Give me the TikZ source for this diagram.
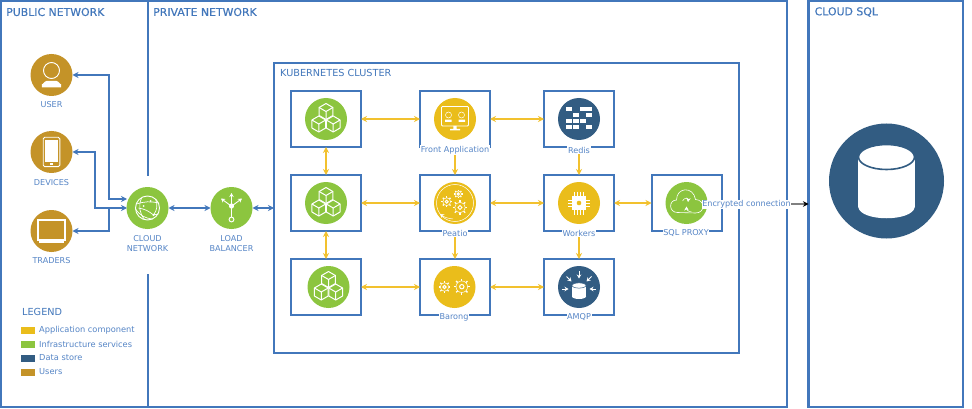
\documentclass[tikz,border=0pt]{standalone}
\usepackage{fontspec}
\setmainfont{DejaVu Sans}
\newfontfamily\headfont[FakeBold=0.25]{DejaVu Sans}
\usetikzlibrary{arrows.meta,calc}
\definecolor{fblue}{HTML}{4277BB}
\definecolor{tblue}{HTML}{5585C6}
\definecolor{cgold}{HTML}{C49328}
\definecolor{cgreen}{HTML}{8CC53F}
\definecolor{cyellow}{HTML}{EABD1B}
\definecolor{cnavy}{HTML}{325C82}
\definecolor{ayellow}{HTML}{F2C12E}
\tikzset{
  frame/.style={draw=fblue,line width=2.1pt,inner sep=0pt,outer sep=0pt,fill=white},
  cell/.style={draw=fblue,line width=2pt,inner sep=0pt,outer sep=0pt,minimum width=70pt,minimum height=56pt},
  disc/.style={circle,inner sep=0pt,outer sep=0pt,minimum size=42pt},
  title/.style={text=fblue,font=\headfont\fontsize{10.9}{11}\selectfont,anchor=west,inner sep=0pt},
  subtitle/.style={text=fblue,font=\fontsize{9.7}{10}\selectfont,anchor=west,inner sep=0pt},
  lab/.style={text=tblue,font=\fontsize{8.1}{10}\selectfont,inner sep=0.6pt,fill=white,align=center},
  leglab/.style={text=tblue,font=\fontsize{8.25}{9}\selectfont,anchor=west,inner sep=0pt},
  swatch/.style={inner sep=0pt,outer sep=0pt,minimum width=14pt,minimum height=7pt},
  bluearrow/.style={draw=fblue,line width=1.2pt,{Stealth[length=6pt,width=6pt]}-{Stealth[length=6pt,width=6pt]}},
  bluehead/.style={draw=fblue,line width=1.2pt,-{Stealth[length=6pt,width=6pt]}},
  yarrow/.style={draw=ayellow,line width=1.2pt,{Stealth[length=6pt,width=6pt]}-{Stealth[length=6pt,width=6pt]}},
  yhead/.style={draw=ayellow,line width=1.2pt,-{Stealth[length=6pt,width=6pt]}},
  iconw/.style={draw=white,line width=0.9pt},
  iconthin/.style={draw=white,line width=0.5pt},
  smallhead/.style={draw=white,line width=0.9pt,-{Stealth[length=4pt,width=4.5pt]}}
}
\newcommand{\hexcube}[2]{%
  \begin{scope}[shift={(#1,#2)}]
    \draw[draw=white,line width=1pt,fill=cgreen,line join=round] (0,-8)--(6.9,-4)--(6.9,4)--(0,8)--(-6.9,4)--(-6.9,-4)--cycle;
    \draw[draw=white,line width=1pt] (0,0)--(0,8) (0,0)--(6.9,-4) (0,0)--(-6.9,-4);
  \end{scope}}
\newcommand{\cubeset}[1]{%
  \begin{scope}[shift={(#1)}]
    \hexcube{0}{-7.5}\hexcube{-7.2}{5}\hexcube{7.2}{5}
  \end{scope}}
\newcommand{\gearicon}[4]{% x y r col
  \begin{scope}[shift={(#1,#2)}]
    \foreach \a in {0,45,...,315}{\draw[draw=white,line width=1.3pt] (\a:#3*0.8)--(\a:#3*1.18);}
    \draw[iconthin,fill=#4] (0,0) circle[radius=#3*0.85];
    \draw[draw=white,line width=1pt] (0,0) circle[radius=#3*0.32];
  \end{scope}}
\begin{document}
\begin{tikzpicture}[x=1pt,y=-1pt]
\useasboundingbox (0,0) rectangle (972,409);
% zone frames
\node[frame,minimum width=786pt,minimum height=406pt] (privzone) at (394,204) {};
\node[frame,minimum width=154.5pt,minimum height=406pt] (sqlzone) at (885.75,204) {};
\coordinate (divA) at (148,1);
\coordinate (divB) at (148,176);
\coordinate (divC) at (148,274);
\coordinate (divD) at (148,407);
\draw[fblue,line width=2.1pt] (divA)--(divB) (divC)--(divD);
\node[title] (tpub) at (6,12) {PUBLIC NETWORK};
\node[title] (tpriv) at (153,12) {PRIVATE NETWORK};
\node[title] (tsql) at (814.5,12) {CLOUD SQL};
% cluster
\node[frame,minimum width=465pt,minimum height=290pt] (k8s) at (506.5,208) {};
\node[subtitle] (tk8s) at (280,73) {KUBERNETES CLUSTER};
% cells
\node[cell] (bk1) at (326,119) {};
\node[cell] (bk2) at (326,203) {};
\node[cell] (bk3) at (326,287) {};
\node[cell] (bfront) at (455,119) {};
\node[cell] (bpeatio) at (455,203) {};
\node[cell] (bbarong) at (455,287) {};
\node[cell] (bredis) at (579,119) {};
\node[cell] (bworkers) at (579,203) {};
\node[cell] (bamqp) at (579,287) {};
\node[cell] (bproxy) at (686.5,203) {};
% discs
\node[disc,fill=cgold] (user) at (51.5,75) {};
\node[disc,fill=cgold] (devices) at (51.5,152) {};
\node[disc,fill=cgold] (traders) at (51.5,231) {};
\node[disc,fill=cgreen] (cloud) at (147.5,208) {};
\node[disc,fill=cgreen] (lb) at (231.5,208) {};
\node[disc,fill=cgreen] (k1) at (326,119) {};
\node[disc,fill=cgreen] (k2) at (326,203) {};
\node[disc,fill=cgreen] (k3) at (328.5,287) {};
\node[disc,fill=cyellow] (front) at (455,119) {};
\node[disc,fill=cyellow] (peatio) at (455,203) {};
\node[disc,fill=cyellow] (barong) at (454.5,287) {};
\node[disc,fill=cnavy] (redis) at (579,119) {};
\node[disc,fill=cyellow] (workers) at (579,203) {};
\node[disc,fill=cnavy] (amqp) at (579,287) {};
\node[disc,fill=cgreen] (proxy) at (686.5,203) {};
\node[disc,fill=cnavy,minimum size=115pt] (db) at (886.5,181) {};
% user icon
\begin{scope}[shift={(user.center)}]
  \draw[iconw] (0,-4.5) circle[radius=8];
  \fill[white] (-9.7,12.5)--(-9.7,9) to[out=-90,in=180] (-5,6)--(5,6) to[out=0,in=-90] (9.7,9)--(9.7,12.5)--cycle;
\end{scope}
% phone icon
\begin{scope}[shift={(devices.center)}]
  \draw[iconw,rounded corners=1.5pt] (-8.3,-14.7) rectangle (8.3,14.7);
  \fill[white] (-6.3,-12) rectangle (6.3,10.5);
  \fill[white] (-1.2,11.3) rectangle (1.2,13.5);
\end{scope}
% laptop icon
\begin{scope}[shift={(traders.center)}]
  \fill[white] (-14.2,-12.3) rectangle (14.2,9.5);
  \fill[cgold] (-12.3,-10.5) rectangle (12.3,7.5);
  \fill[white] (-13,10.3) rectangle (12.7,12.2);
\end{scope}
% globe icon
\begin{scope}[shift={(cloud.center)}]
  \draw[iconw] (0,0) circle[radius=12];
  \draw[iconthin,line width=0.7pt] (-11,-4) to[bend left=15] (11,-5);
  \draw[iconthin,line width=0.7pt] (-12,1) to[bend right=25] (5,11);
  \draw[iconthin,line width=0.7pt] (-6,-10) to[bend right=30] (-3,11.5);
  \draw[iconthin,line width=0.7pt] (8,-9) to[bend left=30] (6,7) -- (11,6);
  \draw[iconthin,line width=0.7pt] (-9,0) to[bend left=15] (6,7);
  \fill[white] (6,7) circle[radius=1.2] (-4,-2) circle[radius=1] (3,-7) circle[radius=1];
\end{scope}
% load balancer icon
\begin{scope}[shift={(lb.center)}]
  \draw[draw=white,line width=1.8pt] (0,-2)--(0,9);
  \draw[draw=white,line width=1pt] (0,11.5) circle[radius=2.4];
  \fill[white] (0,-2) circle[radius=2.6];
  \draw[smallhead] (0,-2)--(0,-15);
  \draw[smallhead] (-1,-2.5)--(-10.5,-9.5);
  \draw[smallhead] (1,-2.5)--(10.5,-9.5);
\end{scope}
% cubes
\cubeset{k1.center}
\cubeset{k2.center}
\cubeset{k3.center}
% monitor icon
\begin{scope}[shift={(front.center)}]
  \draw[iconw,rounded corners=1pt] (-13.5,-12.5) rectangle (13.5,7);
  \draw[iconthin] (-6.5,-4) circle[radius=3] (6.5,-4) circle[radius=3];
  \fill[white] (-10,0.7) rectangle (-3.5,2.9) (3.5,0.7) rectangle (10,2.9);
  \fill[white] (-1.7,7) rectangle (1.7,10) (-5,9.8) rectangle (5,11.5);
\end{scope}
% peatio icon
\begin{scope}[shift={(peatio.center)}]
  \draw[iconthin] (0,0) circle[radius=18.5];
  \gearicon{-8.3}{-1.3}{4.6}{cyellow}
  \gearicon{3.3}{-9}{3.6}{cyellow}
  \gearicon{5}{4.5}{6.2}{cyellow}
  \draw[smallhead,line width=0.5pt] (-2,16) to[bend left=15] (-15,11);
\end{scope}
% barong icon
\begin{scope}[shift={(barong.center)}]
  \gearicon{-10}{0}{5}{cyellow}
  \gearicon{7.3}{-0.3}{6.8}{cyellow}
\end{scope}
% redis icon
\begin{scope}[shift={(redis.center)}]
  \foreach \px/\py in {-10.3/-9.7,3.7/-9.7,10.3/-9.7,-3.3/-3.7,10.3/-3.7,-10.3/2.3,-3.3/2.3,3.7/2.3,-10.3/8.3,-3.3/8.3,10.3/8.3}{
    \fill[white] (\px-2.9,\py-2.2) rectangle (\px+2.9,\py+2.2);}
\end{scope}
% chip icon
\begin{scope}[shift={(workers.center)}]
  \foreach \k in {-4.5,-1.5,1.5,4.5}{\draw[draw=white,line width=1pt] (\k,-11.5)--(\k,11.5);}
  \foreach \k in {-3,0,3}{\draw[draw=white,line width=1pt] (-11,\k)--(11,\k);}
  \fill[white] (-6.7,-6.7) rectangle (6.7,6.7);
  \fill[cyellow] (0,0) circle[radius=2.3];
\end{scope}
% cloud proxy icon
\begin{scope}[shift={(proxy.center)}]
  \draw[draw=white,line width=0.6pt] (-9,9.5) .. controls (-18,9.5) and (-18,-3) .. (-10,-3)
     .. controls (-10,-16) and (7,-17) .. (9,-3.5)
     .. controls (19,-3) and (19,10) .. (9,10) -- cycle;
  \draw[smallhead,line width=0.5pt] (-4,-2) .. controls (-2,-6) and (2,-5) .. (1.5,-1);
  \draw[smallhead,line width=0.5pt] (5,9) .. controls (2,9) and (0,7) .. (0,3.5);
\end{scope}
% amqp icon
\begin{scope}[shift={(amqp.center)}]
  \fill[white] (-7,-1) rectangle (7,9.5);
  \fill[white] (0,9.5) ellipse[x radius=7,y radius=2.5];
  \draw[draw=cnavy,fill=white,line width=0.5pt] (0,-1.5) ellipse[x radius=7,y radius=2.6];
  \draw[smallhead] (0,-16) -- (0,-8.5);
  \draw[smallhead] (-17,2) -- (-10.5,2);
  \draw[smallhead] (17,2) -- (10.5,2);
  \draw[smallhead] (-12.5,-10.5) -- (-7.5,-5.5);
  \draw[smallhead] (12.5,-10.5) -- (7.5,-5.5);
\end{scope}
% database icon
\begin{scope}[shift={(db.center)}]
  \fill[white] (-28.3,-23.5) -- (-28.3,26) .. controls (-26,41) and (26,41) .. (28.3,26) -- (28.3,-23.5) -- cycle;
  \draw[draw=cnavy,fill=white,line width=1.6pt] (0,-24) ellipse[x radius=28,y radius=12.5];
\end{scope}
% blue connectors
\coordinate (userIn) at ($(cloud.center)+(-20.5,-9)$);
\coordinate (devIn) at ($(cloud.center)+(-20.5,0)$);
\coordinate (busA) at (109,208);
\draw[bluearrow] (userIn) -| (109,120) |- (user.east);
\draw[bluearrow] (devIn) -| (95,180) |- (devices.east);
\draw[bluehead] (busA) |- (traders.east);
\draw[bluearrow] (cloud.east) -- (lb.west);
\draw[bluearrow] (lb.east) -- (k8s.west |- lb.east);
% yellow connectors
\draw[yarrow] (bk1.south) -- (bk2.north);
\draw[yarrow] (bk2.south) -- (bk3.north);
\draw[yarrow] (bk1.east) -- (bfront.west);
\draw[yarrow] (bk2.east) -- (bpeatio.west);
\draw[yarrow] (bk3.east) -- (bbarong.west);
\draw[yarrow] (bfront.east) -- (bredis.west);
\draw[yarrow] (bpeatio.east) -- (bworkers.west);
\draw[yarrow] (bbarong.east) -- (bamqp.west);
\draw[yarrow] (bworkers.east) -- (bproxy.west);
% encrypted link
\draw[draw=gray,line width=1.1pt,-{Stealth[length=5.5pt,width=5.5pt,black]}] ($(bproxy.east)+(0,1)$) -- (sqlzone.west |- 0,204);
% labels
\node[lab] (luser) at (51.5,105) {USER};
\node[lab] (ldev) at (51.5,182.5) {DEVICES};
\node[lab] (ltrad) at (51.5,261) {TRADERS};
\node[lab,fill=none] (lcloud) at (147.5,243.5) {CLOUD\\NETWORK};
\node[lab,fill=none] (llb) at (231.5,243.5) {LOAD\\BALANCER};
\node[lab] (lfront) at (455,150) {Front Application};
\node[lab] (lredis) at (579,150) {Redis};
\node[lab] (lpeatio) at (455,233.5) {Peatio};
\node[lab] (lworkers) at (579,233.5) {Workers};
\node[lab] (lproxy) at (686,233.5) {SQL PROXY};
\node[lab] (lbarong) at (454,317.5) {Barong};
\node[lab] (lamqp) at (579,317.5) {AMQP};
\node[lab] (lenc) at (746.5,204.5) {Encrypted connection};
\draw[yhead] (lfront.south -| bpeatio.north) -- (bpeatio.north);
\draw[yhead] (lredis.south) -- (bworkers.north);
\draw[yhead] (lpeatio.south -| bbarong.north) -- (bbarong.north);
\draw[yhead] (lworkers.south) -- (bamqp.north);
% legend
\node[subtitle] (tleg) at (22,312) {LEGEND};
\node[swatch,fill=cyellow,anchor=west] (s1) at (20.5,330) {};
\node[swatch,fill=cgreen,anchor=west] (s2) at (20.5,344) {};
\node[swatch,fill=cnavy,anchor=west] (s3) at (20.5,358) {};
\node[swatch,fill=cgold,anchor=west] (s4) at (20.5,372) {};
\node[leglab] (t1) at (39,330) {Application component};
\node[leglab] (t2) at (39,344) {Infrastructure services};
\node[leglab] (t3) at (39,358) {Data store};
\node[leglab] (t4) at (39,372) {Users};
\end{tikzpicture}
\end{document}
